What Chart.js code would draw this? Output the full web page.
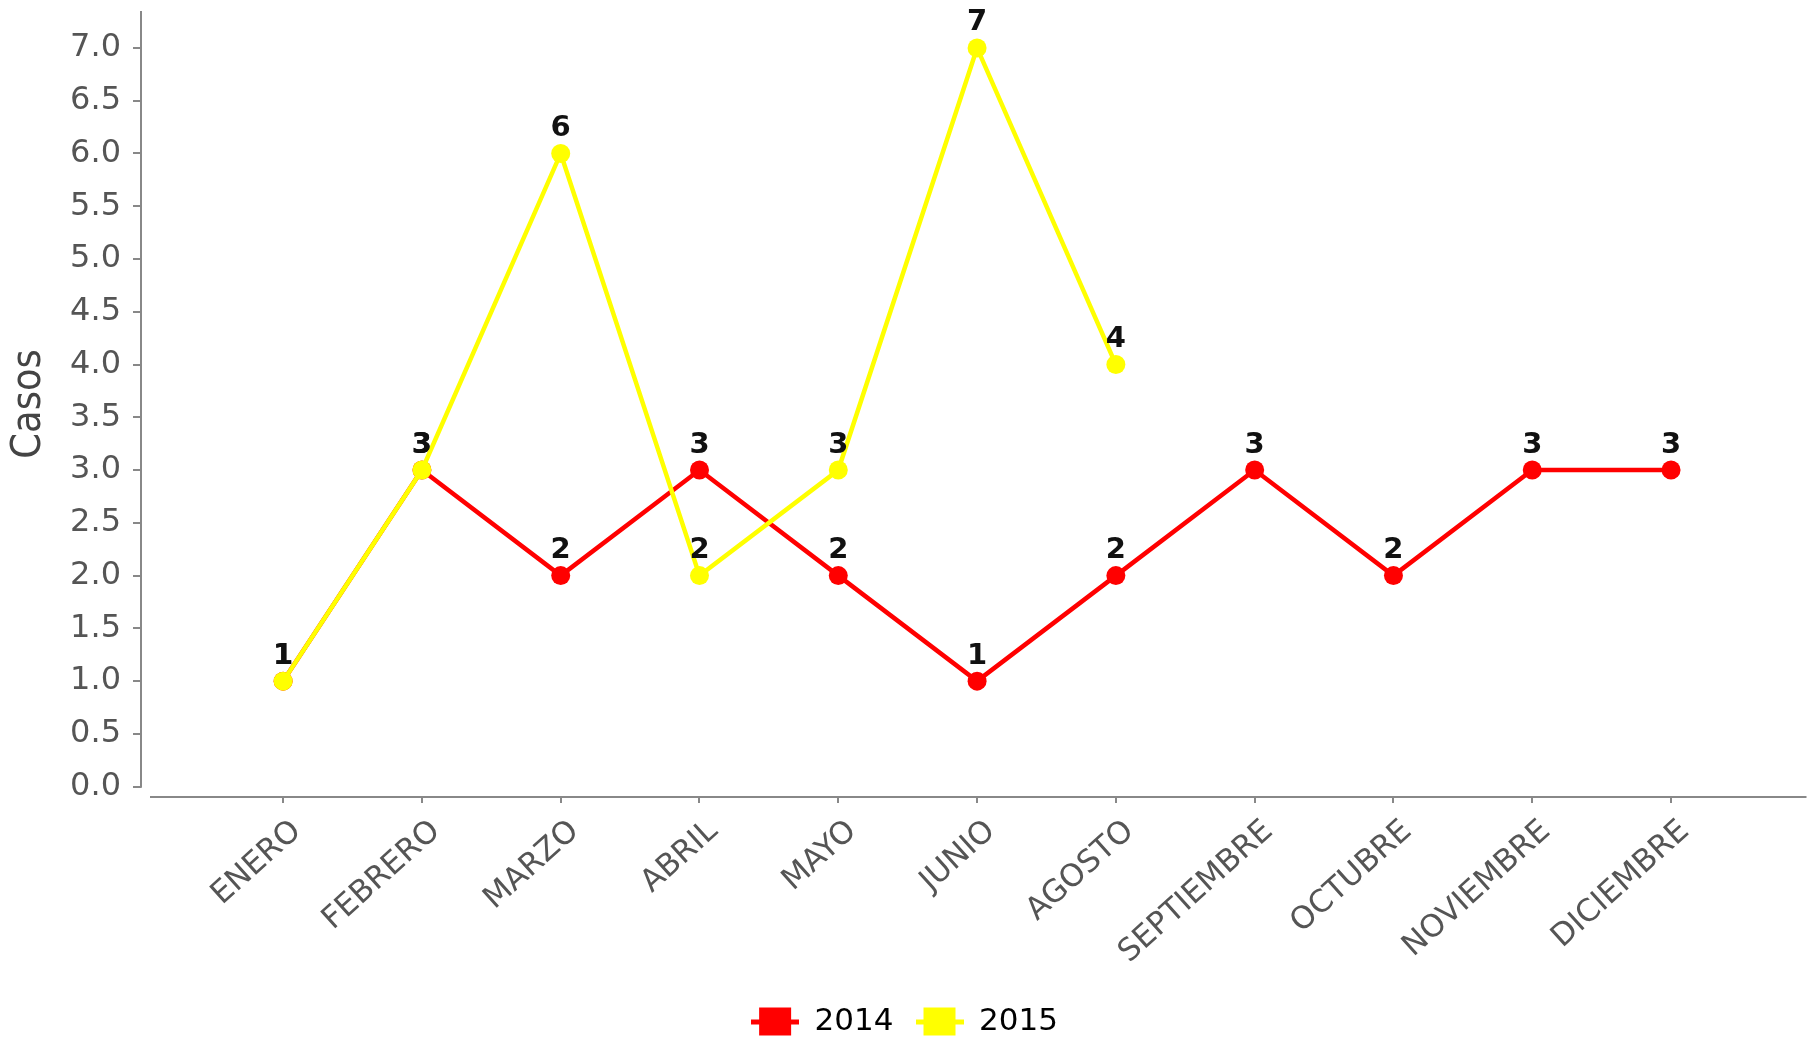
<!DOCTYPE html>
<html>
<head>
<meta charset="utf-8">
<script src="https://cdn.jsdelivr.net/npm/chart.js@4.4.1/dist/chart.umd.min.js"></script>
<style>
  html, body { margin: 0; padding: 0; background: #fff; overflow: hidden; }
  #wrap { width: 1816px; height: 1037px; position: relative; }
</style>
</head>
<body>
<div id="wrap">
  <canvas id="casosChart" width="1816" height="1037"></canvas>
</div>
<script type="text/javascript">
  var meses = ["ENERO", "FEBRERO", "MARZO", "ABRIL", "MAYO", "JUNIO", "AGOSTO",
               "SEPTIEMBRE", "OCTUBRE", "NOVIEMBRE", "DICIEMBRE"];
  var casos2014 = [1, 3, 2, 3, 2, 1, 2, 3, 2, 3, 3];
  var casos2015 = [1, 3, 6, 2, 3, 7, 4, null, null, null, null];
  var yTicks = [0, 0.5, 1, 1.5, 2, 2.5, 3, 3.5, 4, 4.5, 5, 5.5, 6, 6.5, 7];

  function toPoints(values) {
    return values.map(function (v, i) { return { x: i, y: v }; });
  }

  // legend swatch: short line with a square on it
  function swatch(color) {
    var c = document.createElement("canvas");
    c.width = 48; c.height = 30;
    var g = c.getContext("2d");
    g.fillStyle = color;
    g.fillRect(0, 13, 48, 5);
    g.fillRect(8, 1, 32, 28);
    return c;
  }

  var valueLabels = {
    id: "valueLabels",
    afterDatasetsDraw: function (chart) {
      var ctx = chart.ctx;
      ctx.save();
      ctx.font = "bold 29px 'DejaVu Sans'";
      ctx.fillStyle = "#111";
      ctx.textAlign = "center";
      ctx.textBaseline = "middle";
      chart.data.datasets.forEach(function (ds, di) {
        var meta = chart.getDatasetMeta(di);
        meta.data.forEach(function (el, i) {
          var v = ds.data[i].y;
          if (v === null || v === undefined) return;
          ctx.fillText(String(v), el.x, el.y - 25);
        });
      });
      ctx.restore();
    }
  };

  // axis lines with the small gap at the corner
  var axisLines = {
    id: "axisLines",
    beforeDatasetsDraw: function (chart) {
      var ctx = chart.ctx;
      var a = chart.chartArea;
      var y0 = chart.scales.y.getPixelForValue(0);
      ctx.save();
      ctx.strokeStyle = "#888";
      ctx.lineWidth = 2;
      ctx.beginPath();
      ctx.moveTo(a.left, a.top);
      ctx.lineTo(a.left, y0 + 1);
      ctx.moveTo(a.left + 9, a.bottom);
      ctx.lineTo(a.right, a.bottom);
      ctx.stroke();
      ctx.restore();
    }
  };

  var chart = new Chart("casosChart", {
    type: "line",
    data: {
      datasets: [
        {
          label: "2015",
          data: toPoints(casos2015),
          borderColor: "#FFFF00",
          backgroundColor: "#FFFF00",
          borderWidth: 4.5,
          pointRadius: 9.5,
          pointBorderWidth: 0,
          pointStyle: "circle",
          fill: false,
          tension: 0,
          spanGaps: false
        },
        {
          label: "2014",
          data: toPoints(casos2014),
          borderColor: "#FF0000",
          backgroundColor: "#FF0000",
          borderWidth: 4.5,
          pointRadius: 9.5,
          pointBorderWidth: 0,
          pointStyle: "circle",
          fill: false,
          tension: 0
        }
      ]
    },
    plugins: [axisLines, valueLabels],
    options: {
      responsive: false,
      animation: false,
      layout: { padding: { top: 11, right: 7, bottom: -10, left: 0 } },
      plugins: {
        tooltip: { enabled: false },
        legend: {
          display: true,
          position: "bottom",
          labels: {
            usePointStyle: true,
            pointStyleWidth: 48,
            padding: 22,
            color: "#222",
            font: { family: "'DejaVu Sans'", size: 31 },
            sort: function (a, b) { return b.datasetIndex - a.datasetIndex; },
            generateLabels: function (chart) {
              return chart.data.datasets.map(function (ds, i) {
                return {
                  text: ds.label,
                  pointStyle: swatch(ds.borderColor),
                  fillStyle: ds.borderColor,
                  strokeStyle: ds.borderColor,
                  lineWidth: 0,
                  hidden: false,
                  datasetIndex: i
                };
              });
            }
          }
        }
      },
      scales: {
        x: {
          type: "linear",
          min: -1.024,
          max: 10.976,
          afterBuildTicks: function (scale) {
            scale.ticks = meses.map(function (m, i) { return { value: i }; });
          },
          afterFit: function (scale) { scale.height = 187; },
          ticks: {
            autoSkip: false,
            includeBounds: false,
            stepSize: 1,
            minRotation: 42,
            maxRotation: 42,
            padding: 10,
            labelOffset: 14,
            color: "#555",
            font: { family: "'DejaVu Sans'", size: 31 },
            callback: function (v) { return meses[v]; }
          },
          grid: {
            display: true,
            drawOnChartArea: false,
            drawTicks: true,
            tickLength: 6,
            color: "#888",
            lineWidth: 2
          },
          border: { display: false }
        },
        y: {
          min: -0.098,
          max: 7.35,
          afterBuildTicks: function (scale) {
            scale.ticks = yTicks.map(function (t) { return { value: t }; });
          },
          afterFit: function (scale) {
            scale.width = 141;
            scale.paddingTop = 0;
            scale.paddingBottom = 0;
          },
          ticks: {
            includeBounds: false,
            stepSize: 0.5,
            padding: 12,
            color: "#555",
            font: { family: "'DejaVu Sans'", size: 32 },
            callback: function (v) { return Number(v).toFixed(1); }
          },
          grid: {
            display: true,
            drawOnChartArea: false,
            drawTicks: true,
            tickLength: 8,
            color: "#888",
            lineWidth: 2
          },
          border: { display: false },
          title: {
            display: true,
            text: "Casos",
            color: "#444",
            padding: { top: 5, bottom: 0 },
            font: { family: "'DejaVu Sans Condensed', 'Liberation Sans Narrow', sans-serif", size: 41 }
          }
        }
      }
    }
  });
</script>
</body>
</html>
